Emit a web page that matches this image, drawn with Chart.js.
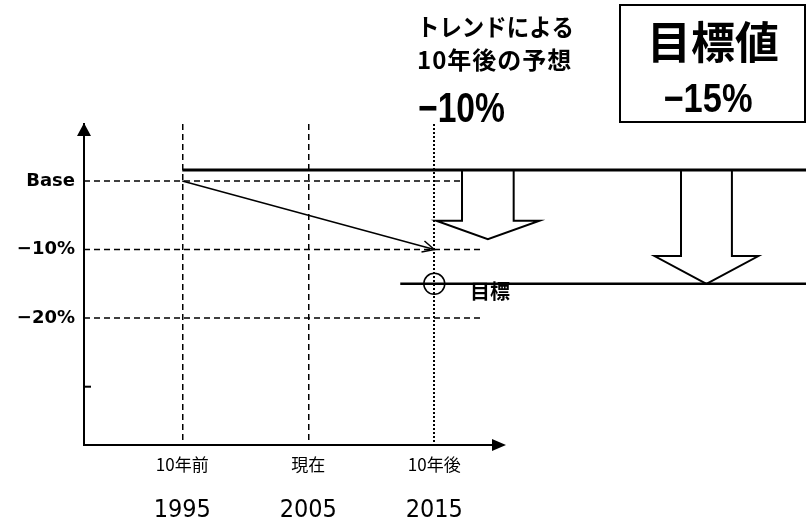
<!DOCTYPE html>
<html lang="ja">
<head>
<meta charset="utf-8">
<script src="https://cdn.jsdelivr.net/npm/chart.js@4.4.1/dist/chart.umd.min.js"></script>
<style>
  html, body { margin: 0; padding: 0; background: #fff; }
  #wrap { width: 806px; height: 527px; }
</style>
</head>
<body>
<div id="wrap"><canvas id="trendChart" width="806" height="527"></canvas></div>
<script>
// --- data ---
const years = [1995, 2005, 2015];
const periodLabels = ['10年前', '現在', '10年後'];
const yTickValues = [0, -10, -20];
const yTickLabels = ['Base', '−10%', '−20%'];
const trendYears = [1995, 2015];
const trendValues = [0, -10];
const levelValue = 1.6;      // solid line sitting just above Base
const forecastTip = -8.5;    // small arrow (trend forecast)
const targetValue = -15;     // big arrow + target line
const forecastText = '−10%';
const targetText = '−15%';

// scale ranges chosen so the plot lines up with the picture
const X_MIN = 1987.2, X_MAX = 2044.5;
const Y_MIN = -38.5, Y_MAX = 8.3;

const JP = '"Noto Sans CJK JP", "Noto Sans", sans-serif';
const NARROW = '"DejaVu Sans Condensed", "Liberation Sans Narrow", "Roboto Condensed", Roboto, sans-serif';

const line = (points, extra) => Object.assign({
    data: points,
    showLine: true,
    borderColor: '#000',
    borderWidth: 1.5,
    pointRadius: 0,
    fill: false,
    clip: false
}, extra);

// hollow block arrow pointing down, open at the top
function blockArrow(cx, shaft, head, top, neck, tip) {
    return [
        { x: cx - shaft, y: top }, { x: cx - shaft, y: neck }, { x: cx - head, y: neck },
        { x: cx, y: tip },
        { x: cx + head, y: neck }, { x: cx + shaft, y: neck }, { x: cx + shaft, y: top }
    ];
}

const datasets = [
    // horizontal guides
    line([{ x: X_MIN, y: yTickValues[0] }, { x: 2017.1, y: yTickValues[0] }], { borderDash: [6, 4] }),
    line([{ x: X_MIN, y: yTickValues[1] }, { x: 2018.9, y: yTickValues[1] }], { borderDash: [6, 4] }),
    line([{ x: X_MIN, y: yTickValues[2] }, { x: 2018.9, y: yTickValues[2] }], { borderDash: [6, 4] }),
    // current level
    line([{ x: years[0], y: levelValue }, { x: X_MAX, y: levelValue }], { borderWidth: 3 }),
    // trend
    line(trendYears.map((x, i) => ({ x, y: trendValues[i] })), { borderWidth: 1.5 }),
    // target line
    line([{ x: 2012.3, y: targetValue }, { x: X_MAX, y: targetValue }], { borderWidth: 2.5 }),
    // target marker
    { data: [{ x: years[2], y: targetValue }], showLine: false, pointRadius: 10.5, pointBorderWidth: 1.5,
      pointBorderColor: '#000', pointBackgroundColor: 'rgba(0,0,0,0)', clip: false },
    // drop arrows
    line(blockArrow(2019.25, 2.05, 4.1, levelValue, -5.8, forecastTip), { borderWidth: 2 }),
    line(blockArrow(2036.6, 2.02, 4.12, levelValue, -10.95, targetValue), { borderWidth: 2 })
];

const decorations = {
    id: 'decorations',
    afterDraw(chart) {
        const { ctx, scales: { x, y } } = chart;
        const ax = x.left, ay = y.bottom;
        ctx.save();
        ctx.fillStyle = '#000';
        ctx.strokeStyle = '#000';

        // y axis arrow head
        ctx.beginPath();
        ctx.moveTo(ax, y.top - 1);
        ctx.lineTo(ax - 7, y.top + 12);
        ctx.lineTo(ax + 7, y.top + 12);
        ctx.closePath();
        ctx.fill();

        // x axis with arrow
        ctx.lineWidth = 2;
        ctx.beginPath();
        ctx.moveTo(ax, ay);
        ctx.lineTo(495, ay);
        ctx.stroke();
        ctx.beginPath();
        ctx.moveTo(506, ay);
        ctx.lineTo(492, ay - 6);
        ctx.lineTo(492, ay + 6);
        ctx.closePath();
        ctx.fill();

        // small tick at -30
        const t = y.getPixelForValue(-30);
        ctx.beginPath();
        ctx.moveTo(ax, t);
        ctx.lineTo(ax + 7, t);
        ctx.stroke();

        // trend arrow head
        const x1 = x.getPixelForValue(trendYears[0]), y1 = y.getPixelForValue(trendValues[0]);
        const x2 = x.getPixelForValue(trendYears[1]), y2 = y.getPixelForValue(trendValues[1]);
        const ang = Math.atan2(y2 - y1, x2 - x1);
        ctx.lineWidth = 1.5;
        ctx.beginPath();
        ctx.moveTo(x2 - 13 * Math.cos(ang - 0.45), y2 - 13 * Math.sin(ang - 0.45));
        ctx.lineTo(x2, y2);
        ctx.lineTo(x2 - 13 * Math.cos(ang + 0.45), y2 - 13 * Math.sin(ang + 0.45));
        ctx.stroke();

        // forecast note
        ctx.textAlign = 'left';
        ctx.textBaseline = 'middle';
        ctx.font = 'bold 24px ' + JP;
        ctx.fillText('トレンドによる', 417, 27, 157);
        ctx.letterSpacing = '1px';
        ctx.fillText('10年後の予想', 417, 60, 156);
        ctx.letterSpacing = '0px';
        ctx.textBaseline = 'alphabetic';
        ctx.font = 'bold 42px "Liberation Sans", Arial, sans-serif';
        ctx.fillText(forecastText, 418, 122, 87);

        // target box
        ctx.lineWidth = 2;
        ctx.strokeRect(620, 5, 185, 117);
        ctx.textAlign = 'center';
        ctx.textBaseline = 'middle';
        ctx.font = 'bold 44px ' + JP;
        ctx.fillText('目標値', 713, 42);
        ctx.textBaseline = 'alphabetic';
        ctx.font = 'bold 40px "Liberation Sans", Arial, sans-serif';
        ctx.fillText(targetText, 708, 112, 89);

        // target label
        ctx.textAlign = 'left';
        ctx.textBaseline = 'middle';
        ctx.font = 'bold 20px ' + JP;
        ctx.fillText('目標', 470, y.getPixelForValue(targetValue) + 8);
        ctx.restore();
    }
};

new Chart(document.getElementById('trendChart'), {
    type: 'scatter',
    data: { datasets },
    plugins: [decorations],
    options: {
        responsive: false,
        animation: false,
        layout: { autoPadding: false, padding: { top: 124, left: 0, right: 0, bottom: 0 } },
        plugins: { legend: { display: false }, tooltip: { enabled: false } },
        scales: {
            x: {
                type: 'linear',
                position: 'bottom',
                min: X_MIN,
                max: X_MAX,
                weight: 0,
                afterBuildTicks: s => { s.ticks = years.map(v => ({ value: v })); },
                afterFit: s => { s.height = 40; },
                ticks: {
                    autoSkip: false,
                    maxRotation: 0,
                    padding: 9,
                    color: '#000',
                    font: { family: JP, size: 17 },
                    callback: v => periodLabels[years.indexOf(v)]
                },
                grid: {
                    display: true, drawTicks: false, color: '#000',
                    lineWidth: c => (c.tick && c.tick.value === 2015 ? 2 : 1.5)
                },
                border: { display: false, dash: c => (c.tick && c.tick.value === 2015 ? [2, 2] : [6, 4]) }
            },
            x2: {
                type: 'linear',
                position: 'bottom',
                min: X_MIN,
                max: X_MAX,
                weight: 1,
                afterBuildTicks: s => { s.ticks = years.map(v => ({ value: v })); },
                afterFit: s => { s.height = 42; },
                ticks: {
                    autoSkip: false,
                    maxRotation: 0,
                    padding: 10,
                    color: '#000',
                    font: { family: NARROW, size: 25 },
                    callback: v => String(v)
                },
                grid: { display: false, drawTicks: false },
                border: { display: false }
            },
            y: {
                type: 'linear',
                position: 'left',
                min: Y_MIN,
                max: Y_MAX,
                afterBuildTicks: s => { s.ticks = yTickValues.map(v => ({ value: v })); },
                afterFit: s => { s.width = 84; },
                ticks: {
                    padding: 9,
                    color: '#000',
                    font: { family: '"DejaVu Sans", sans-serif', size: 18, weight: 'bold' },
                    callback: v => yTickLabels[yTickValues.indexOf(v)]
                },
                grid: { display: false, drawTicks: false },
                border: { display: true, color: '#000', width: 2 }
            }
        }
    }
});
</script>
</body>
</html>
